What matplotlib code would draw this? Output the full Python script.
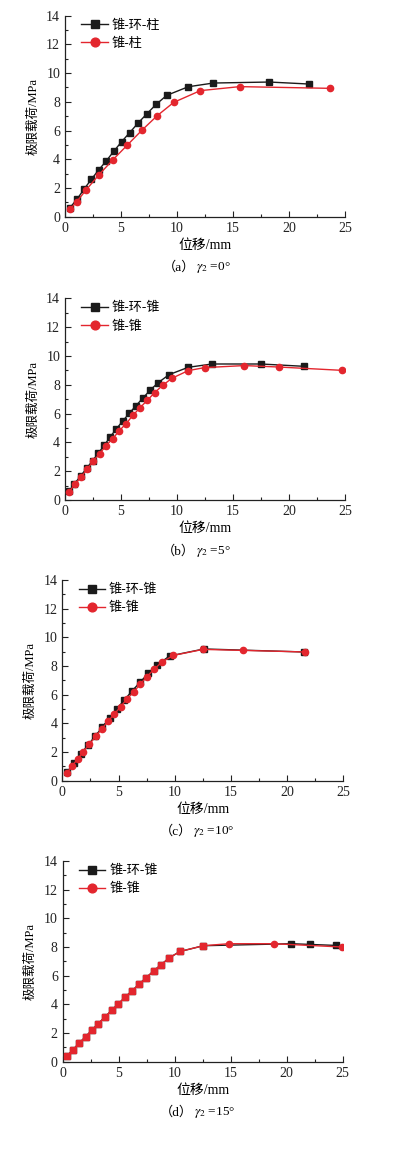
import matplotlib
matplotlib.use("Agg")
import matplotlib.pyplot as plt
from matplotlib.ticker import MultipleLocator

plt.rcParams['font.family'] = ['Liberation Serif', 'Noto Sans CJK SC', 'DejaVu Sans']
plt.rcParams['mathtext.fontset'] = 'stix'

BLACK = '#1b1b1b'
RED = '#e3262e'

# (a) gamma2 = 0
a_ring_x = [0.45, 1.1, 1.73, 2.35, 3.0, 3.7, 4.35, 5.05, 5.77, 6.52, 7.29, 8.13, 9.08, 11.0, 13.24, 18.24, 21.8]
a_ring_y = [0.63, 1.25, 1.95, 2.6, 3.25, 3.9, 4.55, 5.22, 5.85, 6.52, 7.15, 7.82, 8.45, 9.05, 9.31, 9.38, 9.24]
a_cone_x = [0.45, 1.04, 1.88, 3.04, 4.26, 5.54, 6.85, 8.24, 9.7, 12.08, 15.6, 23.66]
a_cone_y = [0.51, 1.04, 1.86, 2.93, 3.95, 4.97, 6.01, 7.04, 7.96, 8.78, 9.06, 8.94]

# (b) gamma2 = 5
b_ring_x = [0.36, 0.83, 1.4, 1.93, 2.47, 2.98, 3.51, 4.02, 4.55, 5.15, 5.74, 6.34, 6.96, 7.62, 8.33, 9.29, 11.0, 13.12, 17.5, 21.3]
b_ring_y = [0.6, 1.11, 1.67, 2.2, 2.73, 3.26, 3.8, 4.37, 4.9, 5.48, 6.02, 6.55, 7.08, 7.64, 8.15, 8.7, 9.21, 9.44, 9.44, 9.28]
b_cone_x = [0.36, 0.89, 1.46, 1.99, 2.53, 3.1, 3.66, 4.26, 4.85, 5.45, 6.07, 6.7, 7.35, 8.0, 8.72, 9.55, 11.0, 12.47, 16.0, 19.1, 24.7]
b_cone_y = [0.56, 1.09, 1.62, 2.15, 2.71, 3.22, 3.77, 4.26, 4.81, 5.3, 5.88, 6.41, 6.92, 7.45, 7.96, 8.45, 8.98, 9.19, 9.33, 9.23, 9.0]

# (c) gamma2 = 10
c_ring_x = [0.39, 1.04, 1.66, 2.28, 2.94, 3.56, 4.21, 4.83, 5.49, 6.17, 6.91, 7.65, 8.45, 9.55, 12.6, 21.5]
c_ring_y = [0.58, 1.21, 1.86, 2.49, 3.12, 3.74, 4.4, 5.0, 5.6, 6.23, 6.86, 7.49, 8.09, 8.7, 9.19, 8.98]
c_cone_x = [0.39, 0.86, 1.36, 1.87, 2.4, 2.97, 3.5, 4.06, 4.63, 5.19, 5.75, 6.35, 6.94, 7.53, 8.16, 8.84, 9.88, 12.52, 16.07, 21.6]
c_cone_y = [0.53, 1.02, 1.51, 2.02, 2.53, 3.09, 3.6, 4.14, 4.65, 5.16, 5.7, 6.19, 6.74, 7.26, 7.77, 8.26, 8.74, 9.16, 9.09, 8.98]

# (d) gamma2 = 15
d_ring_x = [0.36, 0.92, 1.49, 2.05, 2.62, 3.18, 3.78, 4.38, 4.97, 5.57, 6.19, 6.82, 7.47, 8.13, 8.81, 9.52, 10.48, 12.56, 20.4, 22.1, 24.4]
d_ring_y = [0.37, 0.84, 1.31, 1.75, 2.21, 2.66, 3.12, 3.59, 4.03, 4.5, 4.94, 5.41, 5.87, 6.34, 6.78, 7.25, 7.69, 8.09, 8.23, 8.18, 8.11]
d_cone_x = [0.36, 0.92, 1.49, 2.05, 2.62, 3.18, 3.78, 4.38, 4.97, 5.57, 6.19, 6.82, 7.47, 8.13, 8.81, 9.52, 10.48, 12.56, 14.82, 18.87, 24.95]
d_cone_y = [0.37, 0.84, 1.31, 1.75, 2.21, 2.66, 3.12, 3.59, 4.03, 4.5, 4.94, 5.41, 5.87, 6.34, 6.78, 7.25, 7.69, 8.09, 8.23, 8.23, 8.0]
d_square_n = 18  # rising part of the red curve drawn with square markers

panels = [
    ('a', '0°', '锥-环-柱', '锥-柱', a_ring_x, a_ring_y, a_cone_x, a_cone_y),
    ('b', '5°', '锥-环-锥', '锥-锥', b_ring_x, b_ring_y, b_cone_x, b_cone_y),
    ('c', '10°', '锥-环-锥', '锥-锥', c_ring_x, c_ring_y, c_cone_x, c_cone_y),
    ('d', '15°', '锥-环-锥', '锥-锥', d_ring_x, d_ring_y, d_cone_x, d_cone_y),
]

W, H = 395, 1151
# axes boxes in pixels: left, top, right, bottom
boxes = [(65, 15.7, 345, 216.7), (65, 298.3, 345, 500), (62.3, 580, 343.3, 780.7), (62.7, 861, 342.7, 1061.7)]

fig = plt.figure(figsize=(W / 100, H / 100), dpi=100)

for (tag, ang, lab1, lab2, rx, ry, cx, cy), (l, t, r, b) in zip(panels, boxes):
    ax = fig.add_axes([l / W, 1 - b / H, (r - l) / W, (b - t) / H])
    ax.plot(rx, ry, '-s', color=BLACK, lw=1.0, ms=4.2, label=lab1, zorder=3)
    if tag == 'd':
        ax.plot(cx, cy, '-', color=RED, lw=1.0, zorder=4)
        ax.plot(cx[:d_square_n], cy[:d_square_n], 's', color=RED, ms=4.2, zorder=5)
        ax.plot(cx[d_square_n:], cy[d_square_n:], 'o', color=RED, ms=4.5, zorder=5)
        ax.plot([], [], '-o', color=RED, lw=1.0, ms=4.5, label=lab2)
    else:
        ax.plot(cx, cy, '-o', color=RED, lw=1.0, ms=4.5, label=lab2, zorder=4)

    ax.set_xlim(0, 25)
    ax.set_ylim(0, 14)
    ax.xaxis.set_major_locator(MultipleLocator(5))
    ax.xaxis.set_minor_locator(MultipleLocator(2.5))
    ax.yaxis.set_major_locator(MultipleLocator(2))
    ax.yaxis.set_minor_locator(MultipleLocator(1))
    ax.tick_params(which='both', direction='in', labelsize=10, width=0.8, colors='#222222')
    ax.tick_params(which='major', length=4)
    ax.tick_params(which='minor', length=2.5)
    for s in ['top', 'right']:
        ax.spines[s].set_visible(False)
    for s in ['left', 'bottom']:
        ax.spines[s].set_linewidth(0.9)
        ax.spines[s].set_color('#222222')

    ax.set_xlabel('位移/mm', fontsize=10, labelpad=3)
    ax.set_ylabel('极限载荷/MPa', fontsize=9, labelpad=5)

    ax.legend(loc='upper left', frameon=False, fontsize=9.5, handlelength=2.0,
              handletextpad=0.3, borderaxespad=0.2, labelspacing=0.45,
              bbox_to_anchor=(0.03, 1.02), markerscale=1.4)

    # caption: full-width brackets as plain text, gamma as mathtext
    cap_y = -0.255
    ax.text(130 / (r - l), cap_y, '（' + tag + '）', transform=ax.transAxes,
            ha='right', va='center', fontsize=9.5)
    ax.text(131 / (r - l), cap_y, '$\\gamma_2$ =' + ang, transform=ax.transAxes,
            ha='left', va='center', fontsize=9.5)

fig.savefig('out.png', dpi=100)
